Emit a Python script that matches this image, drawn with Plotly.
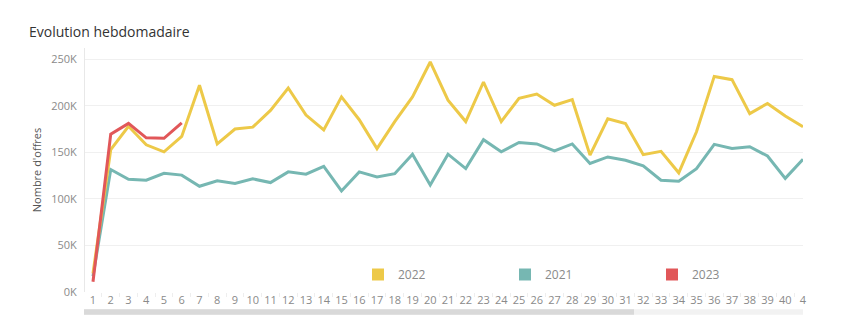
import plotly.graph_objects as go

weeks = list(range(1, 42))
tick_labels = [str(w) for w in range(1, 41)] + ["4"]

values_2022 = [20, 153, 178, 158, 150.5, 167, 222, 159, 175, 177, 195, 219, 190, 174,
               209.5, 185, 154, 183, 209.5, 247, 206, 183, 225.5, 183, 208, 212.5, 200.5,
               206.5, 147, 186, 181, 147.5, 151, 128, 172, 231.5, 228, 191.5, 202.5, 189, 177.5]
values_2021 = [17, 131.5, 121, 120, 127.5, 125.5, 113.5, 119.5, 116.5, 121.5, 117.5, 129,
               126.5, 135, 108.5, 129, 123.5, 127, 148, 115, 148, 132.5, 163.5, 150.5, 160.5,
               159, 151.5, 159, 138, 145, 141.5, 135.5, 120, 119, 132.5, 158.5, 154, 156,
               146, 122, 142.5]
values_2023 = [11, 169.5, 181, 165.5, 165, 181.5]

series = [
    ("2022", values_2022, "#EDC948"),
    ("2021", values_2021, "#76B7B2"),
    ("2023", values_2023, "#E15759"),
]

FONT = "Open Sans"
fig = go.Figure()

# lines (drawn order: 2021, 2022, 2023 on top)
for name, vals, color in [series[1], series[0], series[2]]:
    fig.add_trace(go.Scatter(
        x=weeks[:len(vals)], y=[v * 1000 for v in vals], mode="lines", name=name,
        line=dict(color=color, width=3), showlegend=False, hoverinfo="skip"))

# legend swatches
for name, vals, color in series:
    fig.add_trace(go.Scatter(
        x=[None], y=[None], mode="markers", name=name,
        marker=dict(symbol="square", size=12, color=color), showlegend=True))

W, H = 861, 333
L, R, T, B = 85, 58, 48, 41
pw = W - L - R
ph = H - T - B

def px_x(x):
    return (x - L) / pw

def px_y(y):
    return (H - B - y) / ph

fig.update_layout(
    width=W, height=H,
    margin=dict(l=L, r=R, t=T, b=B),
    paper_bgcolor="white", plot_bgcolor="white",
    font=dict(family=FONT, size=11, color="#8a8a8a"),
    title=dict(text="Evolution hebdomadaire", x=29 / W, xref="container", xanchor="left",
               y=1 - 32 / H, yref="container", yanchor="middle",
               font=dict(family=FONT, size=14, color="#333333")),
    xaxis=dict(range=[0.55, 41], tickmode="array", tickvals=weeks, ticktext=tick_labels,
               showgrid=False, zeroline=False, showline=False,
               ticks="", tickfont=dict(size=11, color="#8a8a8a"),
               minor=dict(tickmode="linear", tick0=0.5, dtick=1, ticks="outside",
                          ticklen=4, tickcolor="#eeeeee", showgrid=False)),
    yaxis=dict(range=[0, 262000], tickvals=[0, 50000, 100000, 150000, 200000, 250000],
               ticktext=["0K", "50K", "100K", "150K", "200K", "250K"],
               showgrid=True, gridcolor="#f0f0f0", gridwidth=1, zeroline=False,
               showline=True, linecolor="#e8e8e8", linewidth=1,
               ticks="", ticklabelstandoff=5,
               tickfont=dict(size=11, color="#8a8a8a"),
               title=dict(text="Nombre d'offres", standoff=7,
                          font=dict(size=11, color="#555555"))),
    legend=dict(orientation="h", x=px_x(358), xanchor="left", y=px_y(274.5), yanchor="middle",
                bgcolor="rgba(0,0,0,0)", entrywidth=102, itemwidth=30,
                font=dict(size=12, color="#8a8a8a")),
    shapes=[
        dict(type="rect", xref="paper", yref="paper", x0=px_x(84), x1=px_x(803),
             y0=px_y(314.7), y1=px_y(309.3), fillcolor="#f2f2f2", line=dict(width=0), layer="below"),
        dict(type="rect", xref="paper", yref="paper", x0=px_x(84), x1=px_x(634),
             y0=px_y(314.7), y1=px_y(309.3), fillcolor="#d9d9d9", line=dict(width=0), layer="below"),
    ],
)

fig.write_html("out.html")
